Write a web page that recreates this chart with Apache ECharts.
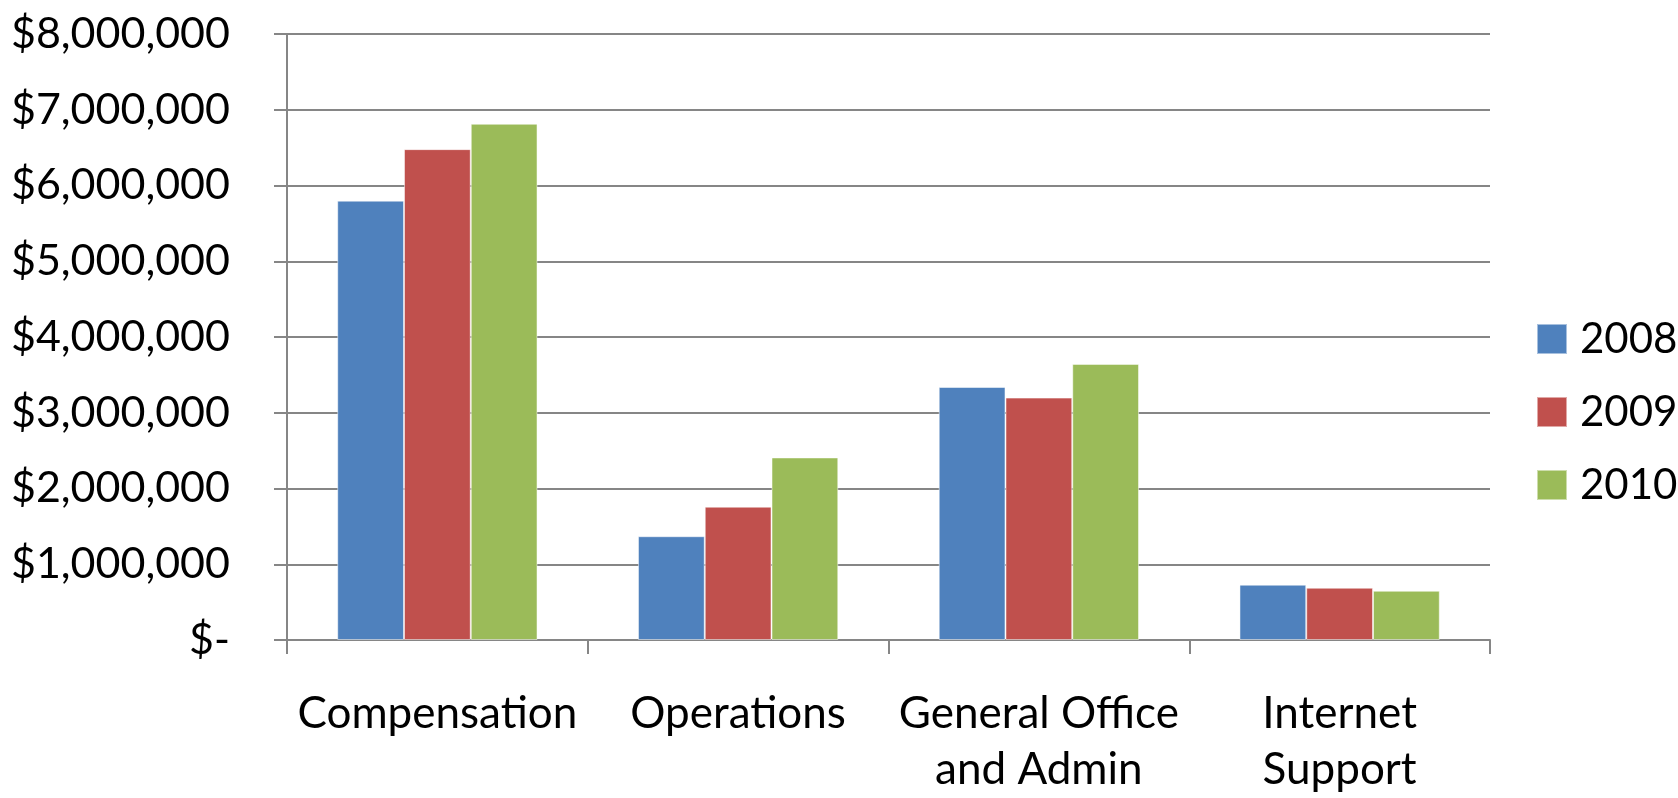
<!DOCTYPE html>
<html>
<head>
<meta charset="utf-8">
<script src="https://cdn.jsdelivr.net/npm/echarts@6/dist/echarts.min.js"></script>
<style>html,body{margin:0;padding:0;background:#fff}#c{width:1678px;height:798px}</style>
</head>
<body>
<div id="c"></div>
<script>
const categories = ['Compensation', 'Operations', 'General Office\nand Admin', 'Internet\nSupport'];
const seriesNames = ['2008', '2009', '2010'];
const values2008 = [5800000, 1370000, 3340000, 730000];
const values2009 = [6480000, 1760000, 3200000, 690000];
const values2010 = [6815000, 2410000, 3645000, 650000];
const colors = ['#4F81BD', '#C0504D', '#9BBB59'];
const yMin = 0, yMax = 8000000, yStep = 1000000;

const FONT = 'Lato';
const chart = echarts.init(document.getElementById('c'), null, {renderer: 'canvas'});
const gridColor = '#868686';
const seriesData = [values2008, values2009, values2010];
chart.setOption({
  animation: false,
  backgroundColor: '#fff',
  textStyle: {fontFamily: FONT},
  grid: {left: 287, right: 188, top: 34, bottom: 157, containLabel: false},
  legend: {
    orient: 'vertical', left: 1531, top: 313,
    itemWidth: 30, itemHeight: 30, itemGap: 31,
    icon: 'rect',
    textStyle: {fontFamily: FONT, fontSize: 42, color: '#000', lineHeight: 30, padding: [0,0,0,8]},
    data: seriesNames
  },
  xAxis: {
    type: 'category', data: categories,
    axisLine: {lineStyle: {color: gridColor, width: 2}},
    axisTick: {show: true, length: 14, lineStyle: {color: gridColor, width: 2}},
    axisLabel: {color: '#000', fontFamily: FONT, fontSize: 44, lineHeight: 56, margin: 46, interval: 0}
  },
  yAxis: {
    type: 'value', min: yMin, max: yMax, interval: yStep,
    axisLine: {show: true, lineStyle: {color: gridColor, width: 2}},
    axisTick: {show: true, length: 13, lineStyle: {color: gridColor, width: 2}},
    splitLine: {lineStyle: {color: gridColor, width: 2}},
    axisLabel: {
      color: '#000', fontFamily: FONT, fontSize: 43, margin: 57,
      formatter: v => v === 0 ? '$-' : '$' + v.toLocaleString('en-US')
    }
  },
  series: seriesNames.map((n, i) => ({
    name: n, type: 'bar', data: seriesData[i],
    barGap: '0%', barCategoryGap: '33.4%',
    itemStyle: {color: colors[i], borderColor: 'rgba(255,255,255,0.5)', borderWidth: 1}
  }))
});
</script>
</body>
</html>
